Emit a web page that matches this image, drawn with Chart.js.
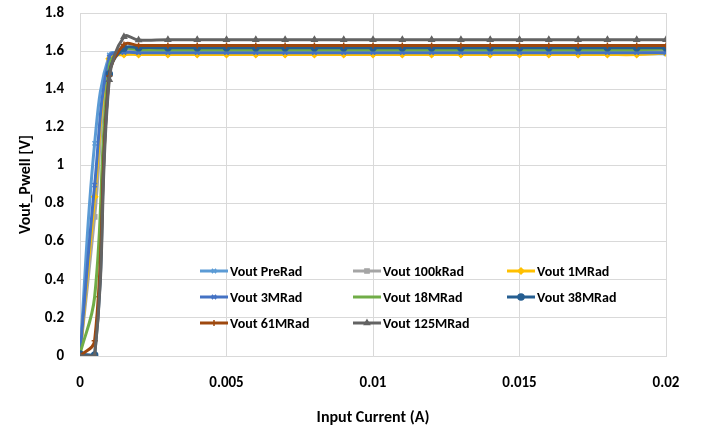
<!DOCTYPE html>
<html>
<head>
<meta charset="utf-8">
<script src="https://cdn.jsdelivr.net/npm/chart.js@4.4.0/dist/chart.umd.min.js"></script>
<style>
  html, body { margin: 0; padding: 0; background: #fff; }
  #wrap { width: 706px; height: 432px; position: relative; }
</style>
</head>
<body>
<div id="wrap"><canvas id="vout-chart"></canvas></div>
<script>
// input current (A)
const current = [0, 0.0005, 0.001, 0.0015, 0.002, 0.003, 0.004, 0.005, 0.006, 0.007, 0.008,
  0.009, 0.01, 0.011, 0.012, 0.013, 0.014, 0.015, 0.016, 0.017, 0.018, 0.019, 0.02];

const seriesNames = ['Vout PreRad', 'Vout 100kRad', 'Vout 1MRad', 'Vout 3MRad',
  'Vout 18MRad', 'Vout 38MRad', 'Vout 61MRad', 'Vout 125MRad'];

const voutPreRad = [0.01, 1.116, 1.58, 1.585, 1.586, 1.586, 1.586, 1.586, 1.586, 1.586, 1.586,
  1.586, 1.586, 1.586, 1.586, 1.586, 1.586, 1.586, 1.586, 1.586, 1.586, 1.586, 1.586];
const vout100kRad = [0.01, 0.73, 1.55, 1.598, 1.598, 1.598, 1.598, 1.598, 1.598, 1.598, 1.598,
  1.598, 1.598, 1.598, 1.598, 1.598, 1.598, 1.598, 1.598, 1.598, 1.598, 1.598, 1.598];
const vout1MRad = [0.0, 0.836, 1.56, 1.582, 1.582, 1.582, 1.582, 1.582, 1.582, 1.582, 1.582,
  1.582, 1.582, 1.582, 1.582, 1.582, 1.582, 1.582, 1.582, 1.582, 1.582, 1.582, 1.59];
const vout3MRad = [0.01, 0.897, 1.57, 1.592, 1.592, 1.592, 1.592, 1.592, 1.592, 1.592, 1.592,
  1.592, 1.592, 1.592, 1.592, 1.592, 1.592, 1.592, 1.592, 1.592, 1.592, 1.592, 1.592];
const vout18MRad = [0.01, 0.311, 1.52, 1.61, 1.607, 1.607, 1.607, 1.607, 1.607, 1.607, 1.607,
  1.607, 1.607, 1.607, 1.607, 1.607, 1.607, 1.607, 1.607, 1.607, 1.607, 1.607, 1.612];
const vout38MRad = [0.01, 0.005, 1.48, 1.615, 1.618, 1.618, 1.618, 1.618, 1.618, 1.618, 1.618,
  1.618, 1.618, 1.618, 1.618, 1.618, 1.618, 1.618, 1.618, 1.618, 1.618, 1.618, 1.618];
const vout61MRad = [0.0, 0.08, 1.47, 1.635, 1.63, 1.63, 1.63, 1.63, 1.63, 1.63, 1.63,
  1.63, 1.63, 1.63, 1.63, 1.63, 1.63, 1.63, 1.63, 1.63, 1.63, 1.63, 1.63];
const vout125MRad = [0.0, 0.0, 1.45, 1.675, 1.658, 1.66, 1.66, 1.66, 1.66, 1.66, 1.66,
  1.66, 1.66, 1.66, 1.66, 1.66, 1.66, 1.66, 1.66, 1.66, 1.66, 1.66, 1.66];

const allValues = [voutPreRad, vout100kRad, vout1MRad, vout3MRad, vout18MRad, vout38MRad, vout61MRad, vout125MRad];
const colors = ['#5B9BD5', '#A5A5A5', '#FFC000', '#4472C4', '#70AD47', '#255E91', '#9E480E', '#636363'];
const markers = ['crossRot', 'rect', 'rectRot', 'crossRot', 'dash', 'circle', 'cross', 'triangle'];

const FONT = 'Carlito, Calibri, Lato, sans-serif';

// later series sit on top, like in the spreadsheet
const datasets = seriesNames.map((name, i) => ({
  label: name,
  data: allValues[i].map((v, j) => ({ x: current[j], y: v })),
  order: seriesNames.length - i,
  borderColor: colors[i],
  backgroundColor: colors[i],
  borderWidth: 3,
  tension: 0.4,
  pointStyle: markers[i],
  pointRadius: 3,
  pointBorderWidth: 1.5,
  pointBorderColor: colors[i],
  pointBackgroundColor: colors[i],
}));

// legend drawn inside the plot area, 3 columns
const insideLegend = {
  id: 'insideLegend',
  afterDraw(chart) {
    const ctx = chart.ctx;
    const cols = [200, 353, 507];
    const rows = [271, 297, 323];
    ctx.save();
    ctx.font = 'bold 14px ' + FONT;
    ctx.textBaseline = 'middle';
    seriesNames.forEach((name, i) => {
      const x = cols[i % 3];
      const y = rows[Math.floor(i / 3)];
      ctx.strokeStyle = colors[i];
      ctx.lineWidth = 3;
      ctx.beginPath();
      ctx.moveTo(x, y);
      ctx.lineTo(x + 28, y);
      ctx.stroke();
      ctx.fillStyle = colors[i];
      ctx.lineWidth = 1.5;
      Chart.helpers.drawPoint(ctx, { pointStyle: markers[i], radius: 3, borderWidth: 1.5 }, x + 14, y);
      ctx.fillStyle = '#000';
      ctx.fillText(name, x + 30, y + 1);
    });
    ctx.restore();
  }
};

new Chart(document.getElementById('vout-chart'), {
  type: 'line',
  data: { datasets: datasets },
  options: {
    responsive: true,
    maintainAspectRatio: false,
    animation: false,
    layout: { padding: { left: 12, right: 40, top: 13, bottom: 0 } },
    plugins: {
      legend: { display: false },
      tooltip: { enabled: false },
    },
    scales: {
      x: {
        type: 'linear',
        min: 0,
        max: 0.02,
        ticks: {
          stepSize: 0.005,
          color: '#000',
          padding: 18,
          font: { family: FONT, size: 15, weight: 'bold' },
          callback: v => String(+v.toFixed(3)),
        },
        grid: { color: '#D9D9D9', lineWidth: 1, drawTicks: false },
        border: { color: '#D9D9D9' },
        title: {
          display: true,
          text: 'Input Current (A)',
          color: '#000',
          font: { family: FONT, size: 16, weight: 'bold' },
          padding: { top: 2 },
        },
        afterFit: s => { s.height = 76; },
      },
      y: {
        min: 0,
        max: 1.8,
        ticks: {
          stepSize: 0.2,
          color: '#000',
          padding: 16,
          font: { family: FONT, size: 15, weight: 'bold' },
          callback: v => String(+v.toFixed(1)),
        },
        grid: { color: '#D9D9D9', lineWidth: 1, drawTicks: false },
        border: { color: '#D9D9D9' },
        title: {
          display: true,
          text: 'Vout_Pwell [V]',
          color: '#000',
          font: { family: FONT, size: 16, weight: 'bold' },
        },
        afterFit: s => { s.width = 68; s.paddingTop = 0; s.paddingBottom = 0; },
      },
    },
  },
  plugins: [insideLegend],
});
</script>
</body>
</html>
